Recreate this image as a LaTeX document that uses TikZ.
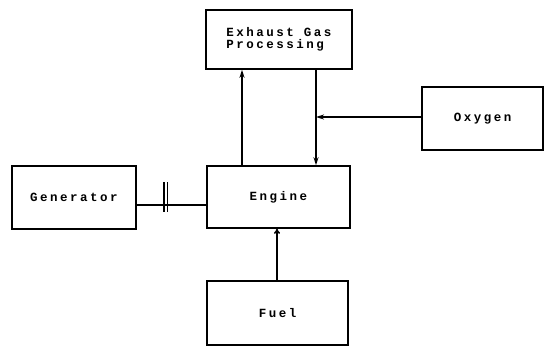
\documentclass[tikz,border=0pt]{standalone}
\usepackage{fontspec}
\newfontfamily\dotfont[LetterSpace=20]{Liberation Mono Bold}
\usetikzlibrary{arrows.meta}
\begin{document}
\begin{tikzpicture}[x=1pt,y=-1pt,
  blk/.style={draw,line width=1.5pt,inner sep=0pt,font=\dotfont\fontsize{12.5}{12.5}\selectfont},
  conn/.style={line width=1.6pt},
  arr/.style={conn,-{Stealth[length=8pt,width=5pt]}},
  oarr/.style={conn,-{To[length=5pt,width=6pt]}}]
\useasboundingbox (0,0) rectangle (551,346);
\node[blk,minimum width=146pt,minimum height=59pt,align=left] (exhaust) at (279,39.5) {Exhaust Gas\\Processing};
\node[blk,minimum width=143pt,minimum height=62pt] (engine) at (278.5,197) {Engine};
\node[blk,minimum width=124pt,minimum height=63pt] (generator) at (74,197.5) {Generator};
\node[blk,minimum width=121pt,minimum height=63pt] (oxygen) at (482.5,118.5) {Oxygen};
\node[blk,minimum width=141pt,minimum height=64pt] (fuel) at (277.5,313) {Fuel};
\coordinate (xu) at (242,0);
\coordinate (xd) at (316,0);
\coordinate (xf) at (277,0);
\coordinate (yo) at (0,117);
\coordinate (shaft) at (0,205);
\coordinate (c1t) at (164,182);
\coordinate (c1b) at (164,212);
\coordinate (c2t) at (167.5,182);
\coordinate (c2b) at (167.5,212);
\draw[arr] (engine.north -| xu) -- (exhaust.south -| xu);
\draw[arr] (exhaust.south -| xd) -- (engine.north -| xd);
\draw[arr] (oxygen.west |- yo) -- (xd |- yo);
\draw[oarr] (fuel.north -| xf) -- (engine.south -| xf);
\draw[conn] (generator.east |- shaft) -- (engine.west |- shaft);
\draw[conn] (c1t) -- (c1b);
\draw[conn] (c2t) -- (c2b);
\end{tikzpicture}
\end{document}
